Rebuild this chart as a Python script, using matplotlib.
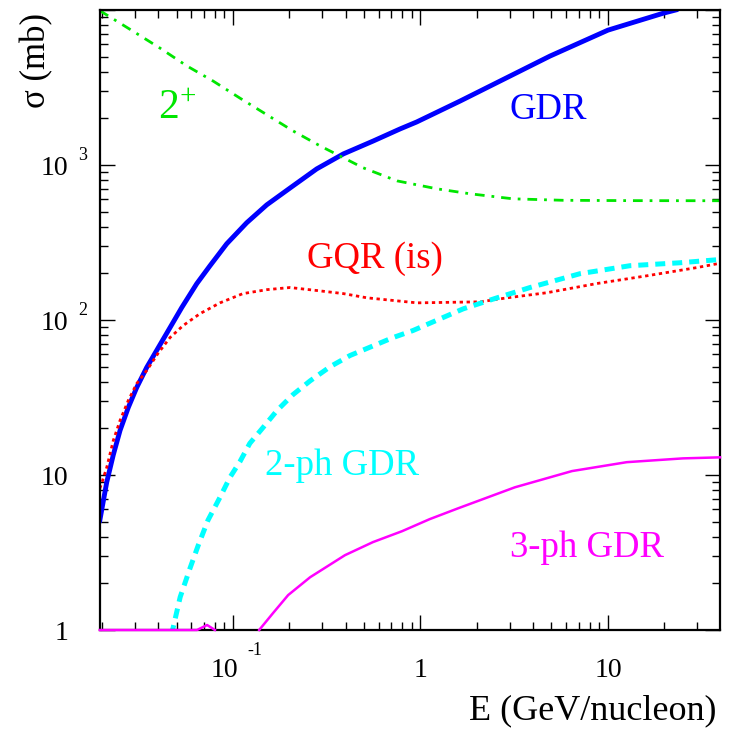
import numpy as np
import matplotlib
matplotlib.use('Agg')
import matplotlib.pyplot as plt
from matplotlib import transforms
from matplotlib.ticker import LogLocator, NullFormatter

# Curvas: E (GeV/nucleon) y sigma (mb)
E_gdr = [0.0195, 0.02123, 0.02301, 0.0250, 0.02767, 0.03068, 0.03467, 0.0400,
         0.04617, 0.0533, 0.0641, 0.07545, 0.09265, 0.1184, 0.1514, 0.2015,
         0.2798, 0.388, 0.5606, 0.778, 0.955, 1.63, 4.91, 10.0, 19.7, 23.0]
s_gdr = [5.1, 9.0, 13.5, 19.4, 27.3, 36.7, 49.4, 66.4,
         89.3, 120.2, 171.5, 224.0, 310.3, 424.0, 553.0, 710.0,
         944.0, 1179.0, 1429.0, 1708.0, 1895.0, 2588.0, 5044.0, 7413.0, 9530.0, 10000.0]

E_2p = [0.0195, 0.0293, 0.0408, 0.0569, 0.0784, 0.109, 0.209, 0.291, 0.396,
        0.494, 0.75, 1.225, 1.84, 3.12, 5.75, 13.1, 39.6]
s_2p = [9900.0, 7300.0, 5680.0, 4350.0, 3480.0, 2700.0, 1660.0, 1330.0, 1100.0,
        960.0, 790.0, 702.0, 652.0, 605.0, 592.0, 589.0, 588.0]

E_gqr = [0.0195, 0.01995, 0.02123, 0.02301, 0.0250, 0.02767, 0.03068, 0.03467,
         0.0398, 0.04617, 0.0542, 0.0668, 0.0853, 0.113, 0.152, 0.2015, 0.2798,
         0.388, 0.519, 0.959, 2.08, 2.90, 4.73, 8.75, 16.2, 29.9, 38.6]
s_gqr = [8.2, 8.84, 11.2, 16.7, 22.5, 30.3, 38.9, 47.2,
         60.8, 77.0, 92.0, 110.0, 129.0, 148.0, 157.0, 162.0, 155.0,
         148.0, 139.0, 129.0, 131.0, 139.0, 150.0, 172.0, 193.0, 218.0, 231.0]

E_2ph = [0.0470, 0.0523, 0.0590, 0.0652, 0.0736, 0.0853, 0.0964, 0.109, 0.123,
         0.145, 0.172, 0.209, 0.258, 0.330, 0.421, 0.558, 0.714, 0.912, 1.69,
         2.56, 3.84, 7.10, 13.1, 24.2, 38.6]
s_2ph = [0.93, 1.63, 2.5, 3.5, 5.11, 7.18, 9.66, 12.2, 16.0,
         20.3, 26.1, 33.0, 40.5, 50.0, 59.0, 68.0, 77.0, 85.5, 118.0,
         139.0, 162.0, 199.0, 224.0, 234.0, 245.0]

# 3-ph: tramo pegado al eje (sigma <= 1) y luego la curva
E_3ph = [0.0195, 0.0643, 0.0728, 0.0802, np.nan, 0.138, 0.164, 0.197, 0.258,
         0.396, 0.558, 0.798, 1.12, 1.59, 3.19, 6.43, 12.6, 25.1, 39.6]
s_3ph = [1.0, 1.0, 1.077, 1.0, np.nan, 1.0, 1.29, 1.68, 2.19,
         3.04, 3.69, 4.34, 5.19, 6.10, 8.33, 10.6, 12.1, 12.8, 13.0]

# Etiquetas de los ejes
xtick_vals = [0.1, 1, 10]
xtick_base = ['10', '1', '10']
xtick_exp = ['-1', '', '']
ytick_vals = [1, 10, 100, 1000]
ytick_base = ['1', '10', '10', '10']
ytick_exp = ['', '', '2', '3']

plt.rcParams['font.family'] = 'Liberation Serif'
plt.rcParams['mathtext.fontset'] = 'custom'
plt.rcParams['mathtext.rm'] = 'Liberation Serif'

fig = plt.figure(figsize=(7.38, 7.29), dpi=100)
ax = fig.add_axes([100/738, 99/729, 620/738, 620/729])
ax.set_xscale('log')
ax.set_yscale('log')
ax.set_xlim(0.01954, 39.6)
ax.set_ylim(1, 1e4)

blue = '#0000ff'
green = '#00e600'
red = '#ff0000'
cyan = '#00ffff'
magenta = '#ff00ff'

ax.plot(E_gdr, s_gdr, color=blue, lw=3.5)
ax.plot(E_2p, s_2p, color=green, lw=2.0, dashes=(3.5, 2.5, 1, 2.5))
ax.plot(E_gqr, s_gqr, color=red, lw=2.0, linestyle=(0, (1.2, 1.3)))
ax.plot(E_2ph, s_2ph, color=cyan, lw=3.6, dashes=(2.0, 1.4))
ax.plot(E_3ph, s_3ph, color=magenta, lw=1.8, clip_on=False, zorder=3)

# Textos de cada curva
fs = 26.5
ax.text(3.0, 1980, 'GDR', color=blue, fontsize=fs, ha='left', va='baseline')
ax.text(0.0398, 1980, r'$\mathregular{2^{+}}$', color=green, fontsize=30,
        ha='left', va='baseline')
ax.text(0.248, 217, 'GQR (is)', color=red, fontsize=fs, ha='left', va='baseline')
ax.text(0.148, 10.0, '2-ph GDR', color=cyan, fontsize=fs, ha='left', va='baseline')
ax.text(3.0, 2.95, '3-ph GDR', color=magenta, fontsize=fs, ha='left', va='baseline')

# Marcas estilo ROOT
for axis in (ax.xaxis, ax.yaxis):
    axis.set_major_locator(LogLocator(base=10, numticks=20))
    axis.set_minor_locator(LogLocator(base=10, subs=np.arange(2, 10), numticks=20))
    axis.set_minor_formatter(NullFormatter())
ax.tick_params(which='both', direction='in', top=True, right=True, width=1.0,
               labelbottom=False, labelleft=False)
ax.tick_params(which='major', length=11)
ax.tick_params(which='minor', length=6)
for sp in ax.spines.values():
    sp.set_linewidth(1.6)

# Numeros de los ejes
tfs = 20
efs = 13
ty = transforms.blended_transform_factory(ax.transAxes, ax.transData)
for v, b, e in zip(ytick_vals, ytick_base, ytick_exp):
    ax.text(0, v, b, fontsize=tfs, ha='right', va='baseline',
            transform=transforms.offset_copy(ty, fig=fig, x=-32, y=-10, units='dots'))
    if e:
        ax.text(0, v, e, fontsize=efs, ha='left', va='baseline',
                transform=transforms.offset_copy(ty, fig=fig, x=-22, y=5, units='dots'))

tx = transforms.blended_transform_factory(ax.transData, ax.transAxes)
for v, b, e in zip(xtick_vals, xtick_base, xtick_exp):
    if e:
        ax.text(v, 0, b, fontsize=tfs, ha='right', va='baseline',
                transform=transforms.offset_copy(tx, fig=fig, x=5, y=-47, units='dots'))
        ax.text(v, 0, e, fontsize=efs, ha='left', va='baseline',
                transform=transforms.offset_copy(tx, fig=fig, x=14, y=-25, units='dots'))
    else:
        ax.text(v, 0, b, fontsize=tfs, ha='center', va='baseline',
                transform=transforms.offset_copy(tx, fig=fig, x=0, y=-47, units='dots'))

ax.set_ylabel('σ (mb)', fontsize=25, loc='top')
ax.yaxis.set_label_coords(-0.076, 0.995)
ax.set_xlabel('E (GeV/nucleon)', fontsize=26, loc='right')
ax.xaxis.set_label_coords(0.995, -0.104)

fig.savefig('out.png', dpi=100)
